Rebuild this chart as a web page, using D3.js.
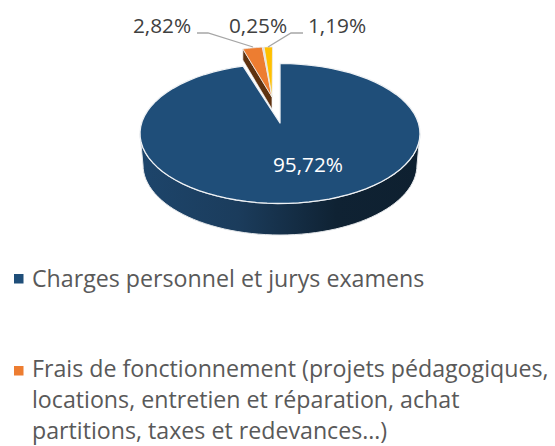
<!DOCTYPE html>
<html><head><meta charset="utf-8"><script src="https://cdn.jsdelivr.net/npm/d3@7"></script>
<style>html,body{margin:0;padding:0;background:#fff}svg{display:block}</style></head>
<body><svg id="c" width="555" height="446"></svg>
<script>
const categories = ["Charges personnel et jurys examens","Frais de fonctionnement","Autres","Divers"];
const values = [95.72, 2.82, 0.25, 1.19];
const labels = ["95,72%","2,82%","0,25%","1,19%"];
const colors = ["#1f4e79","#ed7d31","#d9d9d9","#ffc000"];
const legendLines = [["Charges personnel et jurys examens"],["Frais de fonctionnement (projets pédagogiques,","locations, entretien et réparation, achat","partitions, taxes et redevances…)"]];
const legendColors = ["#1f4e79","#ed7d31"];
const font = "'Open Sans', 'Noto Sans', sans-serif";

const svg = d3.select("#c");
const defs = svg.append("defs");
const g1 = defs.append("linearGradient").attr("id","wall").attr("x1",0).attr("x2",1).attr("y1",0).attr("y2",0);
[[0,"#1d456b"],[0.35,"#1b3c5c"],[0.7,"#0f2233"],[1,"#0e2030"]].forEach(s=>g1.append("stop").attr("offset",s[0]).attr("stop-color",s[1]));

const arcs = d3.pie().sort(null).value(d=>d)(values);
function project(e,a){ return [e.cx + e.rx*Math.sin(a), e.cy - e.ry*Math.cos(a)]; }
function slicePath(e,a0,a1,apex){
  const n=80, scale=d3.scaleLinear().domain([0,n]).range([a0,a1]);
  const pts=d3.range(n+1).map(i=>project(e,scale(i)));
  return d3.line()([apex,...pts])+"Z";
}
const main={cx:280,cy:133.5,rx:140,ry:70}, low={cx:280,cy:165,rx:137,ry:70};
const det={cx:272.5,cy:103,rx:112,ry:56};
const mainApex=[280,123], detApex=[272,97];

// wall of the large slice
const w=d3.range(0,61).map(i=>Math.PI/2+i/60*Math.PI);
const wallPts=[...w.map(a=>project(main,a)),...w.slice().reverse().map(a=>project(low,a))];
svg.append("path").attr("d",d3.line()(wallPts)+"Z").attr("fill","url(#wall)").attr("stroke","#e4e7ea").attr("stroke-width",1);

// brown cut face of the detached slices
const leftEdge=project(det,arcs[1].startAngle);
svg.append("path").attr("d",d3.line()([leftEdge,[leftEdge[0],leftEdge[1]+11],[detApex[0],detApex[1]+12],detApex])+"Z").attr("fill","#5e3210").attr("stroke","#eee").attr("stroke-width",.7);

arcs.forEach((a,i)=>{
  if(i===0){
    svg.append("path").attr("d",slicePath(main,a.startAngle,a.endAngle,mainApex)).attr("fill",colors[i]).attr("stroke","#eef1f4").attr("stroke-width",1.3).attr("stroke-linejoin","round");
  } else {
    svg.append("path").attr("d",slicePath(det,a.startAngle,a.endAngle,detApex)).attr("fill",colors[i]).attr("stroke","#ececec").attr("stroke-width",.8);
  }
});

// leader lines
const leaders=[[[197,33],[208,33],[253,47]],[[303,33],[291,33],[268,47]]];
leaders.forEach(l=>svg.append("path").attr("d",d3.line()(l)).attr("fill","none").attr("stroke","#a6a6a6").attr("stroke-width",1.3));

const lab=[[308,172,"#fff",labels[0]],[162,33,"#404040",labels[1]],[258,33,"#404040",labels[2]],[337,33,"#404040",labels[3]]];
svg.selectAll("text.l").data(lab).join("text").attr("class","l").attr("x",d=>d[0]).attr("y",d=>d[1]).attr("text-anchor","middle").attr("fill",d=>d[2]).attr("font-family",font).attr("font-size",20.8).text(d=>d[3]);

// legend
const ys=[[287],[377,408,439]];
const squareTop=[274,366];
legendLines.forEach((ls,i)=>{
  svg.append("rect").attr("x",14).attr("y",squareTop[i]).attr("width",9.5).attr("height",9.5).attr("fill",legendColors[i]);
  ls.forEach((t,j)=>svg.append("text").attr("x",32).attr("y",ys[i][j]).attr("fill","#595959").attr("font-family",font).attr("font-size",23.2).text(t));
});
</script></body></html>
